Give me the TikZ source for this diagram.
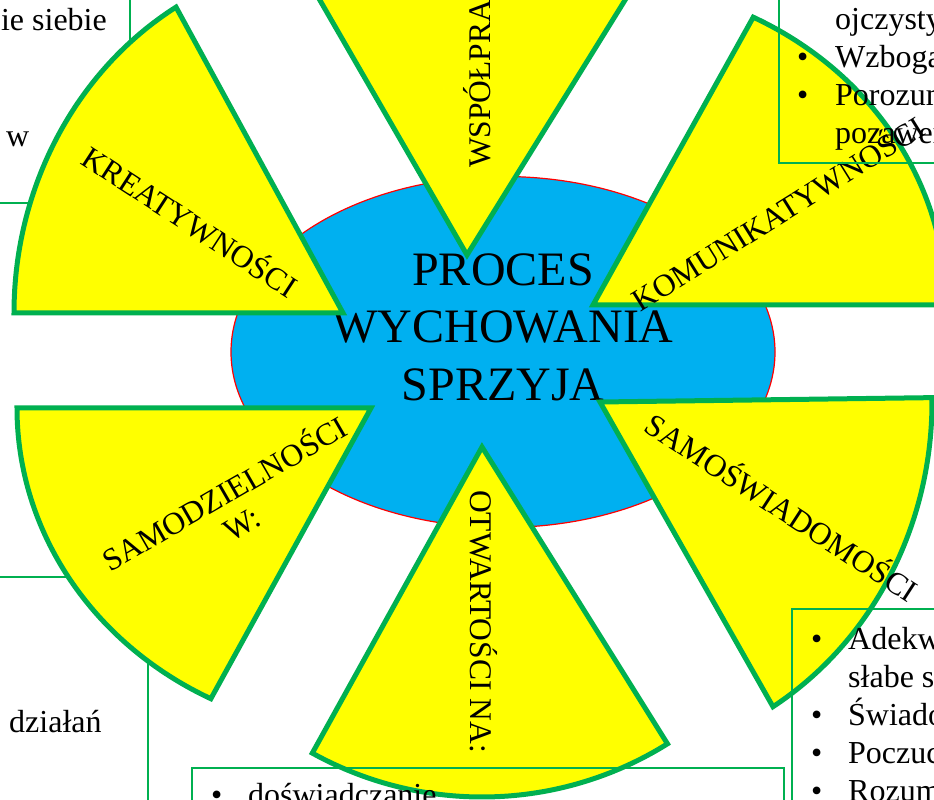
\documentclass[tikz,border=0pt]{standalone}
\usepackage{fontspec}
\setmainfont{Liberation Serif}
\usetikzlibrary{shapes.geometric}
\definecolor{ygreen}{HTML}{00B050}
\definecolor{sky}{HTML}{00B0F0}
\definecolor{yel}{HTML}{FFFF00}
\begin{document}
\begin{tikzpicture}[x=1pt,y=1pt,
  sector/.style={draw=ygreen, fill=yel, line width=5pt, line join=miter},
  boxline/.style={draw=ygreen, line width=1.5pt},
  lab/.style={font=\fontsize{31.5}{35}\selectfont, inner sep=0pt, align=center},
  boxtext/.style={font=\fontsize{32}{38}\selectfont, inner sep=0pt, anchor=base west},
]
\clip (0,0) rectangle (934,800);
\fill[white] (0,0) rectangle (934,800);
% left boxes (beneath the sectors)
\draw[boxline] (-10,597) rectangle (130,810);
\draw[boxline] (-10,-10) rectangle (148,223);
\node[boxtext, anchor=base east] (t1) at (107,769) {ie siebie};
\node[boxtext] (t2) at (6,653) {w};
\node[boxtext] (t3) at (9,67) {działań};
% central ellipse
\node[ellipse, draw=red, fill=sky, line width=1.2pt, inner sep=0pt,
      minimum width=544pt, minimum height=351pt] (ell) at (503,448) {};
\node[font=\fontsize{48}{57.6}\selectfont, align=center, inner sep=0pt] (title) at (503,473)
  {PROCES\\WYCHOWANIA\\SPRZYJA};
% sectors
\draw[sector] (343,487) -- +(120.5:329 and 355)
  arc[start angle=120.5, end angle=180, x radius=329, y radius=355] -- cycle;
\draw[sector] (467,545) -- +(58.2:350)
  arc[start angle=58.2, end angle=120, radius=350] -- cycle;
\draw[sector] (593,495) -- +(0:353 and 323)
  arc[start angle=0, end angle=63, x radius=353, y radius=323] -- cycle;
\draw[sector] (600,398) -- +(-58.6:332 and 357)
  arc[start angle=-58.6, end angle=0.7, x radius=332, y radius=357] -- cycle;
\draw[sector] (482,353) -- +(241:350)
  arc[start angle=241, end angle=302, radius=350] -- cycle;
\draw[sector] (371,392) -- +(180:354 and 326)
  arc[start angle=180, end angle=243.1, x radius=354, y radius=326] -- cycle;
% sector labels
\node[lab, rotate=-33] (kre) at (191,580) {KREATYWNOŚCI};
\node[lab, rotate=32] (kom) at (777,588) {KOMUNIKATYWNOŚCI};
\node[lab, rotate=-33] (samsw) at (783,294) {SAMOŚWIADOMOŚCI};
\node[lab, rotate=30] (samdz) at (232,293) {SAMODZIELNOŚCI\\W:};
\node[lab, rotate=-90, anchor=base west] (otw) at (470,310) {OTWARTOŚCI NA:};
\node[lab, rotate=90, anchor=base west] (wsp) at (490,632) {WSPÓŁPRA};
% right and bottom boxes (above the sectors)
\draw[boxline] (779,637) rectangle (944,810);
\draw[boxline] (792,-10) rectangle (944,191);
\draw[boxline] (192,-10) rectangle (784,32);
\node[boxtext] (r1) at (835,770) {ojczysty};
\node[boxtext] (r2) at (797,732) {\makebox[38pt][l]{•}Wzboga};
\node[boxtext] (r3) at (797,694) {\makebox[38pt][l]{•}Porozum};
\node[boxtext] (r4) at (835,656) {pozawer};
\node[boxtext] (b1) at (811,150) {\makebox[37pt][l]{•}Adekw};
\node[boxtext] (b2) at (848,112) {słabe s};
\node[boxtext] (b3) at (811,74) {\makebox[37pt][l]{•}Świado};
\node[boxtext] (b4) at (811,36) {\makebox[37pt][l]{•}Poczuc};
\node[boxtext] (b5) at (811,-2) {\makebox[37pt][l]{•}Rozum};
\node[boxtext] (d1) at (211,-6) {\makebox[37pt][l]{•}doświadczanie};
\end{tikzpicture}
\end{document}
